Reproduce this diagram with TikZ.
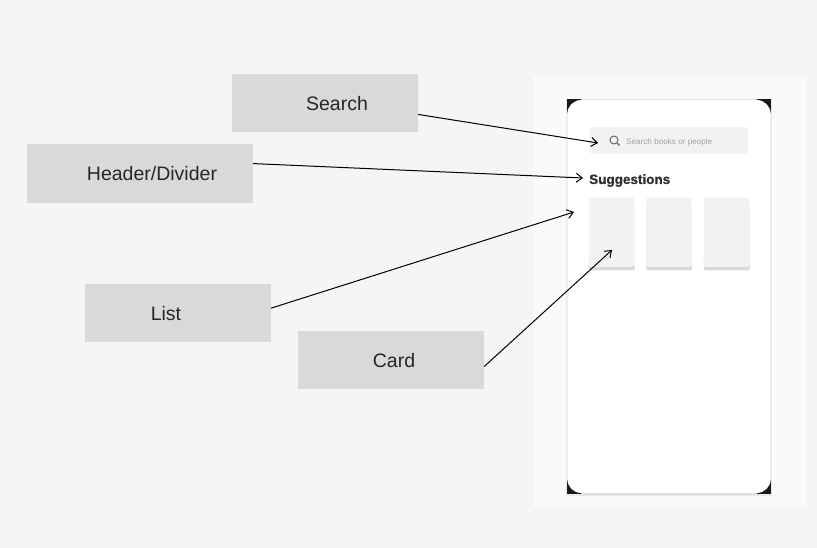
\documentclass[tikz,border=0pt]{standalone}
\usepackage{fontspec}
\setmainfont{Liberation Sans}
\newfontfamily\headfont[BoldFeatures={FakeBold=0.7}]{Liberation Sans}
\usepackage{tikz}
\usetikzlibrary{arrows.meta, positioning, calc}
\definecolor{pagebg}{HTML}{F5F5F5}
\definecolor{panelbg}{HTML}{FAFAFA}
\definecolor{boxfill}{HTML}{D9D9D9}
\definecolor{softfill}{HTML}{F2F2F2}
\definecolor{edgegrey}{HTML}{DADADA}
\definecolor{cornerblack}{HTML}{1A1A1A}
\definecolor{hintgrey}{HTML}{A0A0A0}
\definecolor{headgrey}{HTML}{2E2E2E}
\begin{document}
\begin{tikzpicture}[x=1pt,y=-1pt,>={Straight Barb[length=6pt,width=9pt]},
  label box/.style={rectangle,fill=boxfill,inner sep=0pt,minimum width=186pt,minimum height=58pt},
  label text/.style={font=\fontsize{19.5}{23}\selectfont,text=black!85},
  card node/.style={rectangle,rounded corners=2pt,fill=softfill,inner sep=0pt,minimum width=45pt,minimum height=69.3pt},
  card edge/.style={rectangle,rounded corners=2pt,fill=boxfill,inner sep=0pt,minimum width=45.7pt,minimum height=16pt},
  card side/.style={rectangle,fill=softfill,inner sep=0pt,minimum width=45.7pt,minimum height=60pt},
  callout/.style={->,line width=1pt,black}]
  \useasboundingbox (0,0) rectangle (817,548);
  \fill[pagebg] (0,0) rectangle (817,548);
  \fill[panelbg] (533,76) rectangle (805.5,507);
  \fill[edgegrey!50!panelbg] (566,99) rectangle (772,496);
  \fill[edgegrey,rounded corners=14pt] (567,99.5) rectangle (771,494.5);
  \foreach \x/\y in {567/99.5,757/99.5,567/480,757/480}
    \fill[cornerblack] (\x,\y) rectangle +(14,14);
  \fill[white,rounded corners=14pt] (567.3,100) rectangle (770.7,493);
  \node[rectangle,rounded corners=4pt,fill=softfill,inner sep=0pt,minimum width=159pt,minimum height=27pt] (bar) at (668.5,140.5) {};
  \node[circle,draw=black!60,line width=1pt,inner sep=0pt,minimum size=8pt] (lens) at (614,140) {};
  \coordinate (lens end) at (619.5,145.5);
  \draw[black!60,line width=1.1pt] (lens.south east) -- (lens end);
  \node[anchor=west,inner sep=0pt,text=hintgrey,font=\fontsize{8.15}{10}\selectfont] (hint) at (626,142) {Search books or people};
  \node[anchor=west,inner sep=0pt,text=headgrey,font=\fontsize{13.5}{16}\headfont\bfseries] (head) at (589,180.5) {Suggestions};
  \foreach \n/\x in {a/611.5,b/668.8,c/726.5}{
    \node[card edge] (edge \n) at (\x+0.3,262.5) {};
    \node[card side] (side \n) at (\x+0.3,235) {};
    \node[card node] (card \n) at (\x,232.3) {};
  }
  \node[label box] (search) at (325,103) {};
  \node[label box,minimum width=226pt,minimum height=59pt] (header) at (140,173.5) {};
  \node[label box] (list) at (178,313) {};
  \node[label box] (card) at (391,360) {};
  \node[label text] (search text) at (337,104) {Search};
  \node[label text] (header text) at (152,174) {Header/Divider};
  \node[label text] (list text) at (166,314) {List};
  \node[label text] (card text) at (394,360.5) {Card};
  \coordinate (search tip) at (598,143);
  \coordinate (header tip) at (583,178);
  \coordinate (list tip) at (574,212);
  \coordinate (card tip) at (612,250);
  \draw[callout] (search.-7.35) -- (search tip);
  \draw[callout] (header.5.8) -- (header tip);
  \draw[callout] (list.3.1) -- (list tip);
  \draw[callout] (card.-4.3) -- (card tip);
\end{tikzpicture}
\end{document}
